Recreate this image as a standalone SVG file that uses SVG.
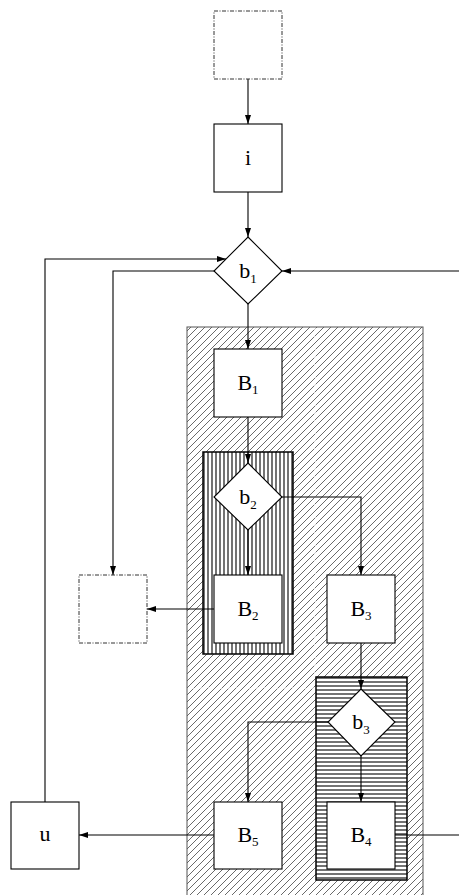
<svg xmlns="http://www.w3.org/2000/svg" width="459" height="895" viewBox="0 0 459 895">
<style>
.box{fill:#fff;stroke:#000;stroke-width:1.1}
.dbox{fill:#fff;stroke:#333;stroke-width:1;stroke-dasharray:4,1.5,1,1.5}
.conn{fill:none;stroke:#000;stroke-width:1.1}
.lbl{font-family:"Liberation Serif","Times New Roman",serif;font-size:22px;fill:#000;text-anchor:middle}
.sub{font-size:13px}
</style>
<defs>
<pattern id="diag" patternUnits="userSpaceOnUse" width="7" height="7">
<path d="M-1,1 L1,-1 M0,7 L7,0 M6,8 L8,6" stroke="#444" stroke-width="0.8"/>
</pattern>
<pattern id="vert" patternUnits="userSpaceOnUse" width="4" height="10" x="203">
<rect width="4" height="10" fill="#fff"/>
<path d="M1,0 V10" stroke="#000" stroke-width="1.1"/>
</pattern>
<pattern id="horiz" patternUnits="userSpaceOnUse" width="10" height="4" y="677">
<rect width="10" height="4" fill="#fff"/>
<path d="M0,1 H10" stroke="#000" stroke-width="1.1"/>
</pattern>
<marker id="ah" markerWidth="9" markerHeight="6" refX="9" refY="3" orient="auto" markerUnits="userSpaceOnUse">
<path d="M0,0 L9,3 L0,6 Z" fill="#000"/>
</marker>
</defs>

<g id="region">
<rect x="187" y="327" width="236" height="575" fill="url(#diag)" stroke="#555" stroke-width="1"/>
<path d="M315,328 V677 M188,688 H316" stroke="#fff" stroke-width="1.2" stroke-dasharray="2,2"/>
</g>
<g id="group-b2">
<rect x="203" y="452" width="90" height="202" fill="url(#vert)" stroke="#000" stroke-width="1.5"/>
</g>
<g id="group-b3">
<rect x="316" y="677" width="91" height="203" fill="url(#horiz)" stroke="#000" stroke-width="1.5"/>
</g>

<g id="connectors">
<path class="conn" d="M248,79 V124" marker-end="url(#ah)"/>
<path class="conn" d="M248,192 V237" marker-end="url(#ah)"/>
<path class="conn" d="M459,271 H282" marker-end="url(#ah)"/>
<path class="conn" d="M45,802 V259 H226" marker-end="url(#ah)"/>
<path class="conn" d="M214,271 H113 V575" marker-end="url(#ah)"/>
<path class="conn" d="M248,304 V349" marker-end="url(#ah)"/>
<path class="conn" d="M248,417 V463" marker-end="url(#ah)"/>
<path class="conn" d="M248,530 V575" marker-end="url(#ah)"/>
<path class="conn" d="M282,497 H361 V575" marker-end="url(#ah)"/>
<path class="conn" d="M214,609 H147" marker-end="url(#ah)"/>
<path class="conn" d="M361,643 V689" marker-end="url(#ah)"/>
<path class="conn" d="M361,756 V802" marker-end="url(#ah)"/>
<path class="conn" d="M328,722 H248 V802" marker-end="url(#ah)"/>
<path class="conn" d="M214,835 H79" marker-end="url(#ah)"/>
<path class="conn" d="M395,835 H459"/>
</g>

<g id="start"><rect class="dbox" x="214" y="11" width="68" height="68"/></g>
<g id="i"><rect class="box" x="214" y="124" width="68" height="68"/><text class="lbl" x="248" y="165">i</text></g>
<g id="b1"><path class="box" d="M248,237 L282,271 L248,304 L214,271 Z"/><text class="lbl" x="248" y="278">b<tspan class="sub" dy="5">1</tspan></text></g>
<g id="B1"><rect class="box" x="214" y="349" width="68" height="68"/><text class="lbl" x="248" y="390">B<tspan class="sub" dy="4">1</tspan></text></g>
<g id="b2"><path class="box" d="M248,463 L282,497 L248,530 L214,497 Z"/><text class="lbl" x="248" y="504">b<tspan class="sub" dy="5">2</tspan></text></g>
<g id="exit"><rect class="dbox" x="79" y="575" width="68" height="68"/></g>
<g id="B2"><rect class="box" x="214" y="575" width="68" height="68"/><text class="lbl" x="248" y="616">B<tspan class="sub" dy="4">2</tspan></text></g>
<g id="B3"><rect class="box" x="327" y="575" width="68" height="68"/><text class="lbl" x="361" y="616">B<tspan class="sub" dy="4">3</tspan></text></g>
<g id="b3"><path class="box" d="M361,689 L395,722 L361,756 L328,722 Z"/><text class="lbl" x="361" y="729">b<tspan class="sub" dy="5">3</tspan></text></g>
<g id="B5"><rect class="box" x="214" y="802" width="68" height="67"/><text class="lbl" x="248" y="842">B<tspan class="sub" dy="4">5</tspan></text></g>
<g id="B4"><rect class="box" x="327" y="802" width="68" height="67"/><text class="lbl" x="361" y="842">B<tspan class="sub" dy="4">4</tspan></text></g>
<g id="u"><rect class="box" x="11" y="802" width="68" height="67"/><text class="lbl" x="45" y="841">u</text></g>
</svg>
